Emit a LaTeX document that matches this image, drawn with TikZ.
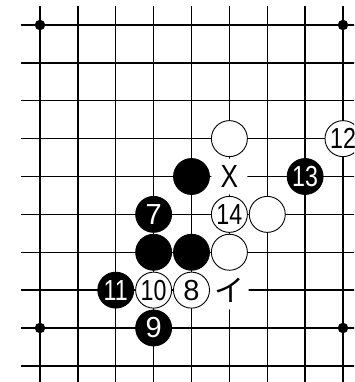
\documentclass[tikz,border=0pt]{standalone}
\usepackage{fontspec}
\setmainfont{Liberation Sans}
\newfontfamily\narrowfont[FakeStretch=0.8]{Liberation Sans}
\newfontfamily\xfont[FakeStretch=0.82]{Liberation Sans}
\newfontfamily\jpfont{Noto Sans CJK JP}
\begin{document}
\begin{tikzpicture}[x=37.875pt,y=-37.875pt,
  numfont/.style={font=\fontsize{29}{29}\selectfont},
  twodig/.style={font=\narrowfont\fontsize{29}{29}\selectfont},
  stoneb/.style={circle,fill=black,draw=black,line width=0.8pt,minimum size=36pt,inner sep=0pt,text=white,numfont},
  stonew/.style={circle,fill=white,draw=black,line width=0.9pt,minimum size=36pt,inner sep=0pt,text=black,numfont},
  lbl/.style={circle,fill=white,minimum size=36pt,inner sep=0pt,text=black,numfont},
  hoshi/.style={circle,fill=black,minimum size=10.5pt,inner sep=0pt},
  gridline/.style={line width=1.3pt,black}]
\useasboundingbox (-1.0561,-0.6601) rectangle (8.2904,9.4257);
\clip (-1.0561,-0.6601) rectangle (8.2904,9.4257);
% grid
\foreach \i in {0,...,8} \draw[gridline] (\i,-0.5017) -- (\i,9.6);
\foreach \j in {0,...,9} \draw[gridline] (-0.5017,\j) -- (8.5,\j);
% star points
\node[hoshi] (h1) at (0,0) {};
\node[hoshi] (h2) at (8,0) {};
\node[hoshi] (h3) at (0,8) {};
\node[hoshi] (h4) at (8,8) {};
% white stones
\node[stonew] (w1) at (5,3) {};
\node[stonew,twodig] (w12) at (8,3) {12};
\node[stonew,twodig] (w14) at (5,5) {14};
\node[stonew] (w2) at (6,5) {};
\node[stonew] (w3) at (5,6) {};
\node[stonew,twodig] (w10) at (3,7) {10};
\node[stonew] (w8) at (4,7) {8};
% black stones
\node[stoneb] (b1) at (4,4) {};
\node[stoneb,twodig] (b13) at (7,4) {13};
\node[stoneb] (b7) at (3,5) {7};
\node[stoneb] (b2) at (3,6) {};
\node[stoneb] (b3) at (4,6) {};
\node[stoneb,twodig] (b11) at (2,7) {11};
\node[stoneb] (b9) at (3,8) {9};
% labels
\node[lbl,font=\xfont\fontsize{32}{32}\selectfont] (lx) at (5,4) {X};
\node[lbl,font=\jpfont\fontsize{30}{30}\selectfont] (li) at (5,7) {イ};
\end{tikzpicture}
\end{document}
